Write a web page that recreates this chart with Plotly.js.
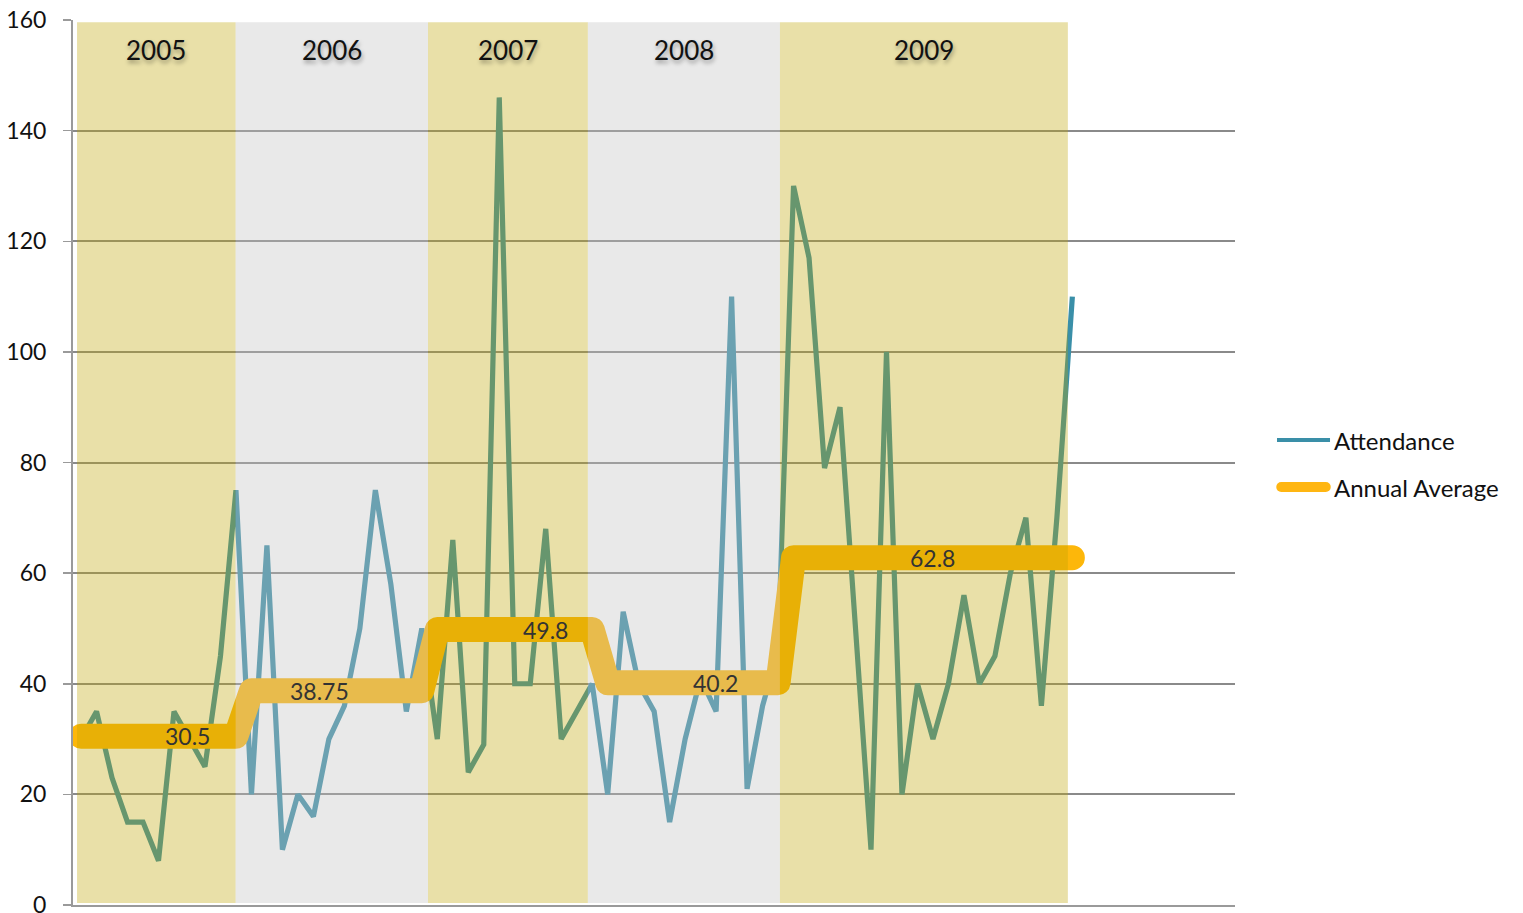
<!DOCTYPE html>
<html>
<head>
<meta charset="utf-8">
<script src="https://cdn.plot.ly/plotly-3.0.1.min.js"></script>
<style>
  html, body { margin: 0; padding: 0; background: #ffffff; }
  #chart { width: 1523px; height: 913px; }
  .traceavg path.js-line, .tracelegavg path.js-line {
    stroke-linecap: round !important;
    stroke-linejoin: round !important;
  }
</style>
</head>
<body>
<div id="chart"></div>
<script>
// ---- data ----
const years = ['2005', '2006', '2007', '2008', '2009'];
const yearCounts = [11, 12, 11, 12, 19];
const annualAverages = [30.5, 38.75, 49.8, 40.2, 62.8];
const attendance = [
  30, 35, 23, 15, 15, 8, 35, 30, 25, 45, 75,              // 2005
  20, 65, 10, 20, 16, 30, 36, 50, 75, 58, 35, 50,         // 2006
  30, 66, 24, 29, 146, 40, 40, 68, 30, 35, 40,            // 2007
  20, 53, 40, 35, 15, 30, 41, 35, 110, 21, 36, 46,        // 2008
  130, 117, 79, 90, 50, 10, 100, 20, 40, 30, 40, 56, 40, 45, 60, 70, 36, 70, 110 // 2009
];
const yTickVals = [0, 20, 40, 60, 80, 100, 120, 140, 160];
const yTickText = ['0', '20', '40', '60', '80', '100', '120', '140', '160'];
// band edges (in point-index units) and where the average labels sit
const bandEdges = [-0.26, 9.98, 22.4, 32.72, 45.12, 63.71];
const labelPositions = [6.9, 15.4, 30.0, 40.95, 55.0];
const averageLabels = ['30.5', '38.75', '49.8', '40.2', '62.8'];

// ---- styles ----
const FONT = 'Lato, "Open Sans", "DejaVu Sans", sans-serif';
const TEAL = '#3a8fa8';
const ORANGE = '#fdb70a';
const YELLOW_TINT = 'rgba(190,165,0,0.34)';
const GREY_TINT = 'rgba(194,194,194,0.36)';

const xIdx = attendance.map((_, i) => i);
const avgSeries = [];
yearCounts.forEach((n, k) => { for (let j = 0; j < n; j++) avgSeries.push(annualAverages[k]); });

const traces = [
  {
    x: xIdx, y: attendance, type: 'scatter', mode: 'lines', name: 'Attendance',
    line: { color: TEAL, width: 5.2 }, showlegend: false, hoverinfo: 'skip'
  },
  {
    x: xIdx, y: avgSeries, type: 'scatter', mode: 'lines', name: 'Annual Average', uid: 'avg',
    line: { color: ORANGE, width: 25 }, showlegend: false, hoverinfo: 'skip'
  },
  // legend samples
  {
    x: [0.13, 0.3175], y: [0.5254, 0.5254], xaxis: 'x2', yaxis: 'y2', type: 'scatter', mode: 'lines',
    line: { color: TEAL, width: 4 }, showlegend: false, hoverinfo: 'skip', uid: 'legatt'
  },
  {
    x: [0.145, 0.3025], y: [0.4723, 0.4723], xaxis: 'x2', yaxis: 'y2', type: 'scatter', mode: 'lines',
    line: { color: '#ffb612', width: 10 }, showlegend: false, hoverinfo: 'skip', uid: 'legavg'
  }
];

const shapes = years.map((yr, k) => ({
  type: 'rect', xref: 'x', yref: 'y', layer: 'above',
  x0: bandEdges[k], x1: bandEdges[k + 1], y0: 0.35, y1: 159.6,
  fillcolor: (k % 2 === 0) ? YELLOW_TINT : GREY_TINT,
  line: { width: 0 }
}));

const annotations = [];
years.forEach((yr, k) => {
  annotations.push({
    x: (bandEdges[k] + bandEdges[k + 1]) / 2, y: 154.6, xref: 'x', yref: 'y',
    text: yr, showarrow: false, xanchor: 'center', yanchor: 'middle',
    font: { family: FONT, size: 26, color: '#111111', shadow: '1px 3px 4px rgba(0,0,0,0.35)' }
  });
  annotations.push({
    x: labelPositions[k], y: annualAverages[k], xref: 'x', yref: 'y',
    text: averageLabels[k], showarrow: false, xanchor: 'center', yanchor: 'middle',
    font: { family: FONT, size: 23, color: '#333333' }
  });
});
annotations.push({
  x: 0.323, y: 0.5254, xref: 'x2', yref: 'y2', text: 'Attendance', showarrow: false,
  xanchor: 'left', yanchor: 'middle', font: { family: FONT, size: 24, color: '#111111' }
});
annotations.push({
  x: 0.323, y: 0.4723, xref: 'x2', yref: 'y2', text: 'Annual Average', showarrow: false,
  xanchor: 'left', yanchor: 'middle', font: { family: FONT, size: 24, color: '#111111' }
});

const layout = {
  width: 1523, height: 913,
  margin: { l: 73, r: 0, t: 20, b: 8, pad: 0 },
  paper_bgcolor: '#ffffff', plot_bgcolor: '#ffffff',
  showlegend: false,
  font: { family: FONT, size: 22, color: '#111111' },
  xaxis: {
    domain: [0, 0.80138], range: [-0.52, 74.5],
    showgrid: false, zeroline: false, showticklabels: false, ticks: '',
    showline: true, linecolor: '#9a9a9a', linewidth: 2, fixedrange: true
  },
  yaxis: {
    range: [0, 160], tickvals: yTickVals, ticktext: yTickText,
    showgrid: true, gridcolor: '#8a8a8a', gridwidth: 2, zeroline: false,
    showline: true, linecolor: '#9a9a9a', linewidth: 2,
    ticks: 'outside', ticklen: 8, tickwidth: 1.5, tickcolor: '#9a9a9a',
    ticklabelstandoff: 12, ticklabeloverflow: 'allow',
    tickfont: { family: FONT, size: 23, color: '#111111' }, fixedrange: true
  },
  xaxis2: { domain: [0.805, 1], range: [0, 1], anchor: 'y2', visible: false, fixedrange: true },
  yaxis2: { domain: [0, 1], range: [0, 1], anchor: 'x2', visible: false, fixedrange: true },
  shapes: shapes,
  annotations: annotations
};

Plotly.newPlot('chart', traces, layout, { staticPlot: true, displayModeBar: false }).then(() => {
  document.querySelectorAll('.scatterlayer .trace').forEach((g, i) => {
    if (i === 1 || i === 3) {
      g.querySelectorAll('path.js-line').forEach(p => {
        p.style.strokeLinecap = 'round';
        p.style.strokeLinejoin = 'round';
      });
    }
  });
});
</script>
</body>
</html>
